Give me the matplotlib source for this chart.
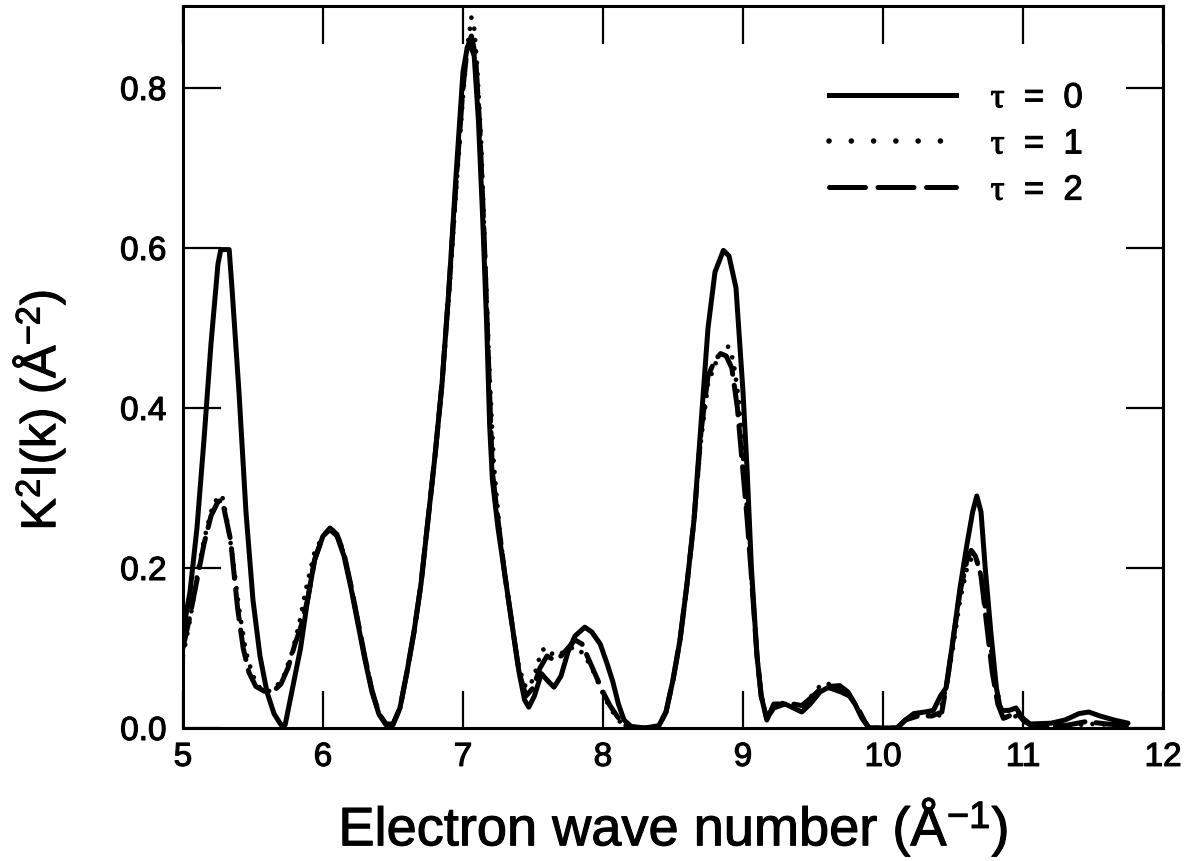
import numpy as np
import matplotlib
matplotlib.use("Agg")
import matplotlib.pyplot as plt
from matplotlib.lines import Line2D
import matplotlib.patheffects as pe

plt.rcParams['font.family'] = ['Liberation Sans', 'DejaVu Sans']
plt.rcParams['mathtext.fontset'] = 'custom'
plt.rcParams['mathtext.rm'] = 'Liberation Sans'
plt.rcParams['mathtext.it'] = 'Liberation Serif'
plt.rcParams['mathtext.bf'] = 'Liberation Sans:bold'

# ---- data ----
k_tau0 = [5.00, 5.05, 5.10, 5.15, 5.20, 5.25, 5.27, 5.33, 5.35, 5.40, 5.45, 5.50, 5.55, 5.60, 5.65, 5.70, 5.73,
          5.76, 5.80, 5.84, 5.89, 5.94, 6.00, 6.05, 6.10, 6.15, 6.20, 6.25, 6.30, 6.35, 6.40, 6.45, 6.50,
          6.55, 6.60, 6.65, 6.70, 6.75, 6.80, 6.85, 6.90, 6.95, 7.00, 7.03, 7.05, 7.08, 7.11, 7.14, 7.17,
          7.19, 7.21, 7.25, 7.30, 7.35, 7.40, 7.44, 7.47, 7.51, 7.56, 7.60, 7.65, 7.70, 7.75, 7.80, 7.87,
          7.92, 7.98, 8.03, 8.07, 8.11, 8.15, 8.20, 8.30, 8.40, 8.45, 8.50, 8.55, 8.60, 8.65, 8.70, 8.75,
          8.80, 8.86, 8.90, 8.95, 9.00, 9.03, 9.06, 9.10, 9.13, 9.17, 9.22, 9.30, 9.36, 9.42, 9.48, 9.55,
          9.62, 9.69, 9.75, 9.80, 9.85, 9.90, 10.10, 10.16, 10.22, 10.30, 10.36, 10.41, 10.45, 10.50, 10.55,
          10.60, 10.64, 10.67, 10.70, 10.73, 10.77, 10.81, 10.84, 10.90, 10.95, 11.00, 11.05, 11.20, 11.30,
          11.40, 11.47, 11.55, 11.65, 11.75]
I_tau0 = [0.12, 0.17, 0.25, 0.36, 0.48, 0.58, 0.598, 0.598, 0.55, 0.42, 0.27, 0.16, 0.09, 0.045, 0.018, 0.004, 0.004,
          0.03, 0.065, 0.10, 0.16, 0.21, 0.24, 0.248, 0.24, 0.215, 0.175, 0.13, 0.085, 0.045, 0.017, 0.004, 0.004,
          0.025, 0.07, 0.12, 0.18, 0.26, 0.34, 0.43, 0.55, 0.69, 0.82, 0.85, 0.855, 0.84, 0.76, 0.64, 0.50,
          0.38, 0.31, 0.25, 0.19, 0.13, 0.07, 0.035, 0.026, 0.04, 0.068, 0.06, 0.051, 0.065, 0.095, 0.115, 0.126,
          0.12, 0.105, 0.08, 0.058, 0.03, 0.01, 0.002, 0.0, 0.003, 0.02, 0.06, 0.11, 0.18, 0.26, 0.38, 0.50,
          0.57, 0.597, 0.59, 0.55, 0.42, 0.32, 0.20, 0.09, 0.04, 0.01, 0.03, 0.03, 0.025, 0.02, 0.03, 0.045,
          0.052, 0.053, 0.045, 0.03, 0.012, 0.0, 0.0, 0.01, 0.018, 0.02, 0.022, 0.04, 0.05, 0.11, 0.175,
          0.23, 0.27, 0.29, 0.27, 0.20, 0.12, 0.05, 0.022, 0.022, 0.025, 0.012, 0.005, 0.006, 0.01,
          0.018, 0.02, 0.015, 0.01, 0.006]

k_tau1 = [5.00, 5.05, 5.10, 5.15, 5.20, 5.25, 5.28, 5.31, 5.35, 5.40, 5.45, 5.50, 5.55, 5.60, 5.66, 5.72, 5.78,
          5.83, 5.88, 5.94, 6.00, 6.05, 6.10, 6.15, 6.20, 6.25, 6.30, 6.35, 6.40, 6.45, 6.50, 6.55, 6.60,
          6.65, 6.70, 6.75, 6.80, 6.85, 6.90, 6.95, 7.00, 7.03, 7.06, 7.08, 7.10, 7.13, 7.16, 7.19, 7.22,
          7.26, 7.30, 7.35, 7.40, 7.45, 7.50, 7.55, 7.58, 7.62, 7.66, 7.70, 7.76, 7.82, 7.87, 7.92, 7.97,
          8.02, 8.07, 8.12, 8.20, 8.35, 8.40, 8.45, 8.50, 8.55, 8.60, 8.65, 8.70, 8.75, 8.80, 8.85, 8.89,
          8.93, 8.97, 9.00, 9.03, 9.06, 9.10, 9.13, 9.17, 9.22, 9.30, 9.36, 9.42, 9.50, 9.56, 9.62, 9.70,
          9.76, 9.82, 9.87, 9.90, 10.10, 10.16, 10.25, 10.35, 10.40, 10.45, 10.50, 10.55, 10.60, 10.64, 10.67,
          10.70, 10.73, 10.77, 10.81, 10.85, 10.90, 10.95, 11.00, 11.10, 11.30, 11.50, 11.75]
I_tau1 = [0.09, 0.135, 0.19, 0.235, 0.27, 0.29, 0.29, 0.265, 0.22, 0.15, 0.095, 0.065, 0.05, 0.045, 0.05, 0.065, 0.095,
          0.13, 0.175, 0.22, 0.24, 0.25, 0.243, 0.218, 0.178, 0.133, 0.088, 0.047, 0.018, 0.005, 0.005, 0.025, 0.07,
          0.12, 0.18, 0.26, 0.34, 0.43, 0.54, 0.67, 0.79, 0.85, 0.888, 0.875, 0.83, 0.73, 0.58, 0.44, 0.33,
          0.25, 0.19, 0.13, 0.075, 0.05, 0.06, 0.09, 0.10, 0.095, 0.09, 0.093, 0.10, 0.10, 0.09, 0.075, 0.055,
          0.035, 0.02, 0.008, 0.0, 0.0, 0.003, 0.02, 0.06, 0.11, 0.18, 0.26, 0.36, 0.43, 0.455, 0.465, 0.478,
          0.46, 0.41, 0.34, 0.27, 0.19, 0.09, 0.04, 0.012, 0.028, 0.032, 0.03, 0.027, 0.042, 0.055, 0.055, 0.048,
          0.04, 0.025, 0.008, 0.0, 0.0, 0.01, 0.016, 0.016, 0.015, 0.05, 0.10, 0.16, 0.20, 0.215, 0.21,
          0.19, 0.15, 0.10, 0.05, 0.02, 0.01, 0.015, 0.008, 0.003, 0.003, 0.005, 0.003]

k_tau2 = [5.00, 5.05, 5.10, 5.15, 5.20, 5.25, 5.28, 5.31, 5.34, 5.39, 5.43, 5.47, 5.52, 5.58, 5.64, 5.70, 5.75,
          5.80, 5.84, 5.89, 5.94, 6.00, 6.05, 6.10, 6.15, 6.20, 6.25, 6.30, 6.35, 6.40, 6.45, 6.50, 6.55,
          6.60, 6.65, 6.70, 6.75, 6.80, 6.85, 6.90, 6.95, 7.00, 7.03, 7.06, 7.09, 7.12, 7.15, 7.18, 7.21,
          7.25, 7.30, 7.35, 7.40, 7.45, 7.50, 7.55, 7.60, 7.65, 7.70, 7.75, 7.80, 7.85, 7.90, 7.95, 8.00,
          8.05, 8.10, 8.15, 8.20, 8.35, 8.40, 8.45, 8.50, 8.55, 8.60, 8.65, 8.70, 8.75, 8.80, 8.84, 8.88,
          8.92, 8.96, 9.00, 9.03, 9.06, 9.10, 9.13, 9.17, 9.22, 9.30, 9.36, 9.42, 9.50, 9.56, 9.62, 9.70,
          9.76, 9.82, 9.87, 9.90, 10.10, 10.16, 10.25, 10.35, 10.42, 10.46, 10.50, 10.55, 10.60, 10.63, 10.66,
          10.70, 10.74, 10.78, 10.82, 10.86, 10.90, 10.95, 11.00, 11.05, 11.30, 11.45, 11.60, 11.75]
I_tau2 = [0.10, 0.14, 0.185, 0.23, 0.265, 0.283, 0.285, 0.26, 0.235, 0.15, 0.10, 0.07, 0.052, 0.046, 0.045, 0.055, 0.075,
          0.105, 0.125, 0.16, 0.21, 0.24, 0.25, 0.242, 0.218, 0.178, 0.133, 0.088, 0.047, 0.018, 0.005, 0.005, 0.025,
          0.07, 0.12, 0.18, 0.26, 0.34, 0.43, 0.55, 0.68, 0.80, 0.85, 0.865, 0.84, 0.75, 0.62, 0.47, 0.32,
          0.26, 0.19, 0.13, 0.07, 0.04, 0.05, 0.075, 0.09, 0.085, 0.09, 0.10, 0.11, 0.105, 0.085, 0.065, 0.045,
          0.028, 0.015, 0.004, 0.0, 0.0, 0.003, 0.02, 0.06, 0.11, 0.18, 0.26, 0.37, 0.44, 0.46, 0.468, 0.465,
          0.45, 0.40, 0.32, 0.26, 0.19, 0.09, 0.04, 0.012, 0.025, 0.03, 0.03, 0.028, 0.04, 0.05, 0.05, 0.045,
          0.04, 0.025, 0.008, 0.0, 0.0, 0.01, 0.015, 0.015, 0.02, 0.06, 0.11, 0.17, 0.21, 0.222, 0.215,
          0.19, 0.13, 0.07, 0.03, 0.012, 0.015, 0.02, 0.01, 0.004, 0.003, 0.008, 0.005, 0.003]

labels = [r'$\tau$  =  0', r'$\tau$  =  1', r'$\tau$  =  2']
xticks = [5, 6, 7, 8, 9, 10, 11, 12]
yticks = [0.0, 0.2, 0.4, 0.6, 0.8]

thick = [pe.withStroke(linewidth=0.8, foreground='black')]

fig = plt.figure(figsize=(11.92, 8.62), dpi=100)
ax = fig.add_axes([0.1535, 0.1543, 0.8222, 0.8376])

lw = 3.6
ax.plot(k_tau0, I_tau0, color='black', lw=lw, solid_joinstyle='round', solid_capstyle='round')
ax.plot(k_tau1, I_tau1, color='black', lw=3.4, linestyle=(0, (0.01, 2.4)), dash_capstyle='round')
ax.plot(k_tau2, I_tau2, color='black', lw=lw, linestyle=(0, (6.0, 2.2)), dash_capstyle='round')

ax.set_xlim(5, 12)
ax.set_ylim(0, 0.9025)
ax.set_xticks(xticks)
ax.set_xticklabels([str(t) for t in xticks])
ax.set_yticks(yticks)
ax.set_yticklabels([f'{t:.1f}' for t in yticks])

ax.tick_params(direction='in', length=27, width=1.6, top=True, right=True,
               labelsize=24, pad=10)
ax.tick_params(axis='y', pad=12)
for s in ax.spines.values():
    s.set_linewidth(2.2)
for t in ax.get_xticklabels() + ax.get_yticklabels():
    t.set_path_effects(thick)

xl = ax.set_xlabel('Electron wave number (Å$^{-1}$)', fontsize=39, labelpad=17)
yl = ax.set_ylabel('K$^2$I(k) (Å$^{-2}$)', fontsize=35)
ax.yaxis.set_label_coords(-0.118, 0.44)
xl.set_path_effects(thick)
yl.set_path_effects(thick)

handles = [
    Line2D([], [], color='black', lw=lw),
    Line2D([], [], color='black', lw=4.0, linestyle=(0, (0.01, 4.0)), dash_capstyle='round'),
    Line2D([], [], color='black', lw=lw, linestyle=(0, (7.2, 2.5)), dash_capstyle='round'),
]
leg = ax.legend(handles, labels, loc='upper right', bbox_to_anchor=(0.933, 0.915), frameon=False,
                fontsize=25, handlelength=3.65, handletextpad=1.0, labelspacing=0.38, borderaxespad=0)
for t in leg.get_texts():
    t.set_path_effects(thick)

fig.savefig('out.png', dpi=100)
